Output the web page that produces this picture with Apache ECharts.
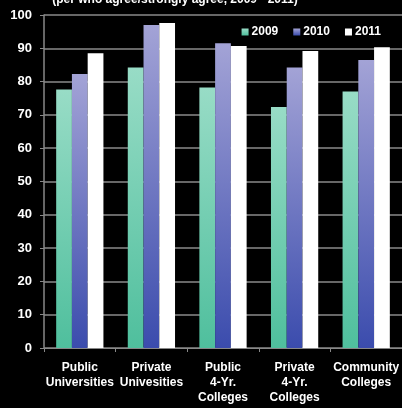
<!DOCTYPE html>
<html>
<head>
<meta charset="utf-8">
<script src="https://cdn.jsdelivr.net/npm/echarts@6/dist/echarts.min.js"></script>
<style>
  html, body { margin: 0; padding: 0; background: #000; }
  #chart { width: 402px; height: 408px; }
</style>
</head>
<body>
<div id="chart"></div>
<script>
var categories = ['Public\nUniversities', 'Private\nUnivesities', 'Public\n4-Yr.\nColleges', 'Private\n4-Yr.\nColleges', 'Community\nColleges'];
var years = ['2009', '2010', '2011'];
var v2009 = [77.6, 84.2, 78.2, 72.4, 77.0];
var v2010 = [82.3, 97.0, 91.5, 84.2, 86.5];
var v2011 = [88.5, 97.6, 90.7, 89.2, 90.3];
var yTicks = [0, 10, 20, 30, 40, 50, 60, 70, 80, 90, 100];

var font = "'Liberation Sans Narrow', 'Arial Narrow', 'Liberation Sans', Arial, sans-serif";

function grad(top, bottom) {
    return new echarts.graphic.LinearGradient(0, 0, 0, 1, [
        { offset: 0, color: top },
        { offset: 1, color: bottom }
    ]);
}

var chart = echarts.init(document.getElementById('chart'));
chart.setOption({
    backgroundColor: '#000',
    animation: false,
    title: {
        text: '(per who agree/strongly agree, 2009 - 2011)',
        left: 170,
        textAlign: 'center',
        top: -11,
        textStyle: { color: '#fff', fontFamily: font, fontWeight: 'bold', fontSize: 12 }
    },
    legend: {
        data: years,
        right: 16,
        top: 21,
        itemWidth: 7,
        itemHeight: 7,
        itemGap: 15,
        icon: 'rect',
        textStyle: { color: '#fff', fontFamily: font, fontWeight: 'bold', fontSize: 12, padding: [0, 0, 0, -2] }
    },
    grid: { left: 44, right: -6, top: 15, bottom: 60, containLabel: false },
    xAxis: {
        type: 'category',
        data: categories,
        axisLine: { lineStyle: { color: '#888', width: 1 } },
        axisTick: { show: true, length: 4, lineStyle: { color: '#888' } },
        axisLabel: {
            color: '#fff', fontFamily: font, fontWeight: 'bold', fontSize: 12,
            lineHeight: 15, margin: 12, interval: 0
        }
    },
    yAxis: {
        type: 'value',
        min: 0,
        max: 100,
        interval: 10,
        axisLine: { show: true, lineStyle: { color: '#888', width: 1.5 } },
        axisTick: { show: true, length: 4, lineStyle: { color: '#888' } },
        axisLabel: {
            color: '#fff', fontFamily: font, fontWeight: 'bold', fontSize: 13, margin: 12,
            formatter: function (v) { return yTicks.indexOf(v) >= 0 ? String(v) : ''; }
        },
        splitLine: { lineStyle: { color: '#8a8a8a', width: 1.5 } }
    },
    series: [
        {
            name: years[0], type: 'bar', data: v2009, barGap: '0%', barCategoryGap: '34%',
            itemStyle: { color: grad('#98dcc6', '#4fbf9d') }
        },
        {
            name: years[1], type: 'bar', data: v2010,
            itemStyle: { color: grad('#a3a3d6', '#3b4cad') }
        },
        {
            name: years[2], type: 'bar', data: v2011,
            itemStyle: { color: '#ffffff' }
        }
    ]
});
</script>
</body>
</html>
